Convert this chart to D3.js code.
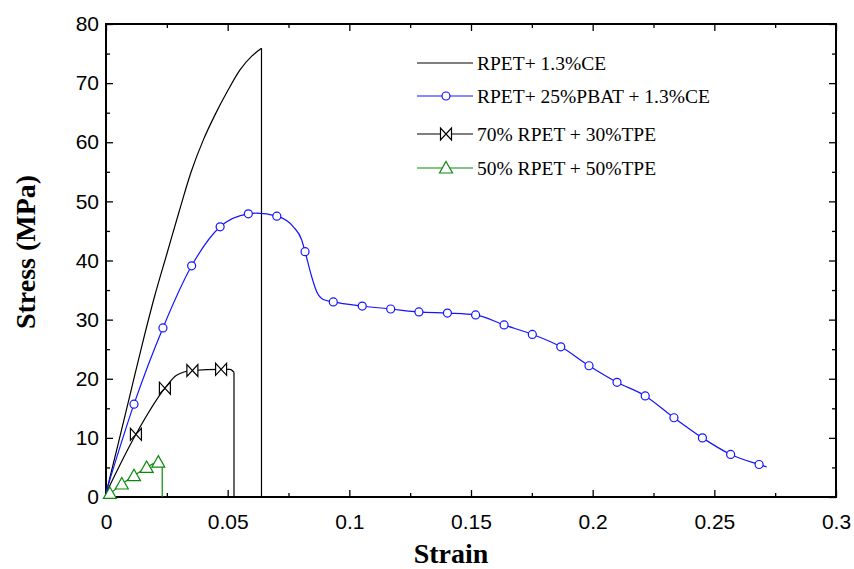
<!DOCTYPE html>
<html>
<head>
<meta charset="utf-8">
<script src="https://cdn.jsdelivr.net/npm/d3@7"></script>
<style>
  body { margin: 0; background: #fff; }
  svg { display: block; }
</style>
</head>
<body>
<script>
const width = 854;
const height = 569;
const margin = { top: 24, right: 18, bottom: 72, left: 106 }; // plot box 106..836 x 24..497

// axis values
const strainDomain = [0, 0.3];
const stressDomain = [0, 80];
const strainTicks = [0, 0.05, 0.1, 0.15, 0.2, 0.25, 0.3];
const strainTickLabels = ['0', '0.05', '0.1', '0.15', '0.2', '0.25', '0.3'];
const strainMinor = [0.025, 0.075, 0.125, 0.175, 0.225, 0.275];
const stressTicks = [0, 10, 20, 30, 40, 50, 60, 70, 80];
const stressMinor = [5, 15, 25, 35, 45, 55, 65, 75];

// RPET+ 1.3%CE (no markers)
const ceStrain = [0, 0.005, 0.01, 0.015, 0.02, 0.025, 0.03, 0.035, 0.04, 0.045, 0.05, 0.055, 0.06, 0.0639];
const ceStress = [0.6, 9, 17.5, 26, 34, 41.1, 48.2, 55, 60.4, 64.8, 68.7, 72.2, 74.6, 75.9];
const ceBreak = 0.0639;

// RPET+ 25%PBAT + 1.3%CE (line + circle markers)
const pbatStrain = [0, 0.0115, 0.0234, 0.0352, 0.0469, 0.0585, 0.0619, 0.0702, 0.077, 0.0804, 0.0818, 0.0845, 0.0866, 0.0893, 0.0934,
  0.1053, 0.117, 0.1286, 0.1403, 0.1519, 0.1636, 0.1752, 0.1869, 0.1985, 0.21, 0.2216, 0.2334, 0.2451, 0.2567, 0.2684, 0.2715];
const pbatStress = [0.8, 15.7, 28.6, 39.1, 45.7, 47.9, 48.0, 47.5, 45.7, 43.5, 41.5, 37.3, 34.7, 33.4, 33.0,
  32.3, 31.8, 31.3, 31.1, 30.8, 29.1, 27.5, 25.4, 22.2, 19.4, 17.1, 13.4, 10.0, 7.2, 5.5, 5.1];
const pbatMarkStrain = [0.0115, 0.0234, 0.0352, 0.0469, 0.0585, 0.0702, 0.0818, 0.0934, 0.1053, 0.117, 0.1286, 0.1403,
  0.1519, 0.1636, 0.1752, 0.1869, 0.1985, 0.21, 0.2216, 0.2334, 0.2451, 0.2567, 0.2684];
const pbatMarkStress = [15.7, 28.6, 39.1, 45.7, 47.9, 47.5, 41.5, 33.0, 32.3, 31.8, 31.3, 31.1,
  30.8, 29.1, 27.5, 25.4, 22.2, 19.4, 17.1, 13.4, 10.0, 7.2, 5.5];

// 70% RPET + 30%TPE (bowtie markers)
const tpe30Strain = [0, 0.0123, 0.0242, 0.029, 0.0355, 0.0473, 0.051, 0.0526];
const tpe30Stress = [0.6, 10.6, 18.4, 20.6, 21.4, 21.6, 21.6, 21.1];
const tpe30MarkStrain = [0.0123, 0.0242, 0.0355, 0.0473];
const tpe30MarkStress = [10.6, 18.4, 21.4, 21.6];
const tpe30Break = 0.0526;

// 50% RPET + 50%TPE (triangle markers)
const tpe50Strain = [0, 0.0016, 0.0065, 0.0115, 0.0167, 0.0215, 0.0231];
const tpe50Stress = [0.3, 0.6, 2.2, 3.6, 5.0, 5.9, 5.7];
const tpe50MarkStrain = [0.0016, 0.0065, 0.0115, 0.0167, 0.0215];
const tpe50MarkStress = [0.6, 2.2, 3.6, 5.0, 5.9];
const tpe50Break = 0.0231;

const legendLabels = ['RPET+ 1.3%CE', 'RPET+ 25%PBAT + 1.3%CE', '70% RPET + 30%TPE', '50% RPET + 50%TPE'];

const blue = '#1414ff';
const green = '#0a8a0a';

const w = width - margin.left - margin.right;
const h = height - margin.top - margin.bottom;

const svg = d3.select('body').append('svg')
    .attr('width', width)
    .attr('height', height);

const g = svg.append('g')
    .attr('transform', `translate(${margin.left},${margin.top})`);

const x = d3.scaleLinear().domain(strainDomain).range([0, w]);
const y = d3.scaleLinear().domain(stressDomain).range([h, 0]);

const zip = (a, b) => a.map((v, i) => [v, b[i]]);

// axes: ticks pointing inward on all four sides
function styleAxis(sel) {
    sel.select('.domain').remove();
    sel.selectAll('.tick line').attr('stroke', '#000').attr('stroke-width', 1.3);
    sel.selectAll('.tick text')
        .attr('fill', '#000')
        .style('font-family', '"Liberation Sans", Arial, Helvetica, sans-serif')
        .style('font-size', '21px');
}

g.append('g')
    .attr('transform', `translate(0,${h})`)
    .call(d3.axisBottom(x).tickValues(strainTicks).tickFormat((d, i) => strainTickLabels[i]).tickSize(-7).tickPadding(17))
    .call(styleAxis);
g.append('g')
    .attr('transform', `translate(0,${h})`)
    .call(d3.axisBottom(x).tickValues(strainMinor).tickFormat('').tickSize(-4))
    .call(styleAxis);
g.append('g')
    .call(d3.axisTop(x).tickValues(strainTicks).tickFormat('').tickSize(-7))
    .call(styleAxis);
g.append('g')
    .call(d3.axisTop(x).tickValues(strainMinor).tickFormat('').tickSize(-4))
    .call(styleAxis);

g.append('g')
    .call(d3.axisLeft(y).tickValues(stressTicks).tickSize(-7).tickPadding(7))
    .call(styleAxis);
g.append('g')
    .call(d3.axisLeft(y).tickValues(stressMinor).tickFormat('').tickSize(-4))
    .call(styleAxis);
g.append('g')
    .attr('transform', `translate(${w},0)`)
    .call(d3.axisRight(y).tickValues(stressTicks).tickFormat('').tickSize(-7))
    .call(styleAxis);
g.append('g')
    .attr('transform', `translate(${w},0)`)
    .call(d3.axisRight(y).tickValues(stressMinor).tickFormat('').tickSize(-4))
    .call(styleAxis);

// frame
g.append('rect')
    .attr('width', w)
    .attr('height', h)
    .attr('fill', 'none')
    .attr('stroke', '#000')
    .attr('stroke-width', 2);

// curves
const smooth = d3.line().x(d => x(d[0])).y(d => y(d[1])).curve(d3.curveMonotoneX);
const straight = d3.line().x(d => x(d[0])).y(d => y(d[1]));

function drawSeries(xs, ys, brk, color) {
    const pts = zip(xs, ys);
    g.append('path')
        .attr('d', smooth(pts))
        .attr('fill', 'none')
        .attr('stroke', color)
        .attr('stroke-width', 1.2);
    if (brk !== null) {
        const last = pts[pts.length - 1];
        g.append('path')
            .attr('d', straight([last, [brk, 0]]))
            .attr('fill', 'none')
            .attr('stroke', color)
            .attr('stroke-width', 1.2);
    }
}

drawSeries(ceStrain, ceStress, ceBreak, '#000');
drawSeries(tpe30Strain, tpe30Stress, tpe30Break, '#000');
drawSeries(tpe50Strain, tpe50Stress, tpe50Break, green);
drawSeries(pbatStrain, pbatStress, null, blue);

// marker shapes
const bowtie = 'M-5.5,-6L-5.5,6L5.5,-6L5.5,6Z';
const triangle = 'M0,-6.5L6.5,5L-6.5,5Z';

function drawMarks(xs, ys, shape, color) {
    const pts = zip(xs, ys);
    const sel = g.append('g').selectAll('.m')
        .data(pts)
        .enter();
    if (shape === 'circle') {
        sel.append('circle')
            .attr('cx', d => x(d[0]))
            .attr('cy', d => y(d[1]))
            .attr('r', 4)
            .attr('fill', '#fff')
            .attr('stroke', color)
            .attr('stroke-width', 1.2);
    } else {
        sel.append('path')
            .attr('d', shape)
            .attr('transform', d => `translate(${x(d[0])},${y(d[1])})`)
            .attr('fill', '#fff')
            .attr('stroke', color)
            .attr('stroke-width', 1.2);
    }
}

drawMarks(pbatMarkStrain, pbatMarkStress, 'circle', blue);
drawMarks(tpe30MarkStrain, tpe30MarkStress, bowtie, '#000');
drawMarks(tpe50MarkStrain, tpe50MarkStress, triangle, green);

// legend
const legendRows = [
    { label: legendLabels[0], color: '#000', shape: null, y: 63 },
    { label: legendLabels[1], color: blue, shape: 'circle', y: 96 },
    { label: legendLabels[2], color: '#000', shape: bowtie, y: 134 },
    { label: legendLabels[3], color: green, shape: triangle, y: 168 }
];

const legend = svg.append('g');
legendRows.forEach(r => {
    legend.append('line')
        .attr('x1', 417).attr('x2', 473)
        .attr('y1', r.y).attr('y2', r.y)
        .attr('stroke', r.color)
        .attr('stroke-width', 1.2);
    if (r.shape === 'circle') {
        legend.append('circle')
            .attr('cx', 446).attr('cy', r.y).attr('r', 4)
            .attr('fill', '#fff').attr('stroke', r.color).attr('stroke-width', 1.2);
    } else if (r.shape) {
        legend.append('path')
            .attr('d', r.shape)
            .attr('transform', `translate(446,${r.y})`)
            .attr('fill', '#fff').attr('stroke', r.color).attr('stroke-width', 1.2);
    }
    legend.append('text')
        .attr('x', 477)
        .attr('y', r.y + 6.5)
        .style('font-family', '"Liberation Serif", "Times New Roman", Times, serif')
        .style('font-size', '19.5px')
        .text(r.label);
});

// axis titles
svg.append('text')
    .attr('x', 451)
    .attr('y', 563)
    .attr('text-anchor', 'middle')
    .style('font-family', '"Liberation Serif", "Times New Roman", Times, serif')
    .style('font-weight', 'bold')
    .style('font-size', '28px')
    .text('Strain');

svg.append('text')
    .attr('transform', 'translate(35,252) rotate(-90)')
    .attr('text-anchor', 'middle')
    .style('font-family', '"Liberation Serif", "Times New Roman", Times, serif')
    .style('font-weight', 'bold')
    .style('font-size', '28px')
    .text('Stress (MPa)');
</script>
</body>
</html>
